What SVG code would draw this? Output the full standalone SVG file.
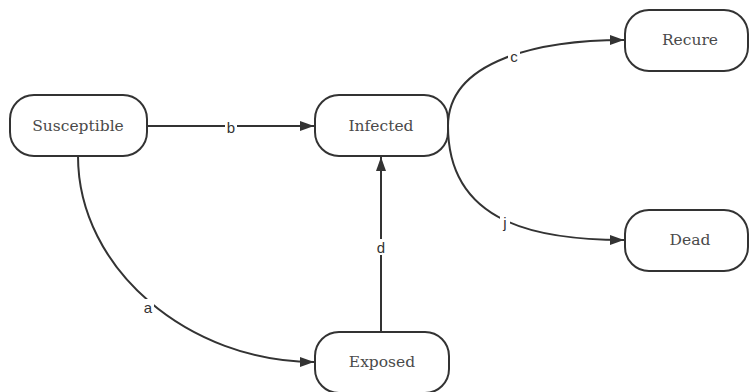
<svg xmlns="http://www.w3.org/2000/svg" width="751" height="392" viewBox="0 0 751 392">
<style>
.node rect{fill:#fff;stroke:#333;stroke-width:2}
.node text{font-family:"DejaVu Serif","Liberation Serif",serif;font-size:15.5px;fill:#4a4a4a;text-anchor:middle;dominant-baseline:central}
.edge path{fill:none;stroke:#333;stroke-width:2}
.lbl rect{fill:#fff}
.lbl text{font-family:"Liberation Sans",Arial,sans-serif;font-size:15px;fill:#333;text-anchor:middle;dominant-baseline:central}
</style>
<defs>
<marker id="arr" viewBox="0 0 14 10" refX="14" refY="5" markerWidth="14" markerHeight="10" markerUnits="userSpaceOnUse" orient="auto">
<path d="M0,0 L14,5 L0,10 z" fill="#333"/>
</marker>
</defs>
<rect width="751" height="392" fill="#fff"/>
<g id="connectors">
<g class="edge" id="e-b"><path d="M147,126 L314,126" marker-end="url(#arr)"/></g>
<g class="edge" id="e-a"><path d="M78,156 C78,270 190,362 314,362" marker-end="url(#arr)"/></g>
<g class="edge" id="e-d"><path d="M381,332 L381,157" marker-end="url(#arr)"/></g>
<g class="edge" id="e-c"><path d="M448,126 C448,60 540,40 624,40" marker-end="url(#arr)"/></g>
<g class="edge" id="e-j"><path d="M448,126 C448,225 540,240 624,240" marker-end="url(#arr)"/></g>
<g class="lbl"><rect x="225" y="119" width="12" height="16"/><text x="231" y="127">b</text></g>
<g class="lbl"><rect x="142" y="299" width="12" height="16"/><text x="148" y="307">a</text></g>
<g class="lbl"><rect x="375" y="239" width="12" height="16"/><text x="381" y="247">d</text></g>
<g class="lbl"><rect x="508" y="48" width="12" height="16"/><text x="514" y="56">c</text></g>
<g class="lbl"><rect x="500" y="214" width="10" height="16"/><text x="505" y="222">j</text></g>
</g>
<g class="node" id="n-susceptible"><rect x="10" y="95" width="137" height="61" rx="24"/><text x="78" y="126">Susceptible</text></g>
<g class="node" id="n-infected"><rect x="315" y="95" width="133" height="61" rx="24"/><text x="381" y="126">Infected</text></g>
<g class="node" id="n-recure"><rect x="625" y="10" width="123" height="61" rx="24"/><text x="690" y="40">Recure</text></g>
<g class="node" id="n-dead"><rect x="625" y="210" width="123" height="61" rx="24"/><text x="690" y="240">Dead</text></g>
<g class="node" id="n-exposed"><rect x="315" y="332" width="134" height="61" rx="24"/><text x="382" y="362">Exposed</text></g>
</svg>
